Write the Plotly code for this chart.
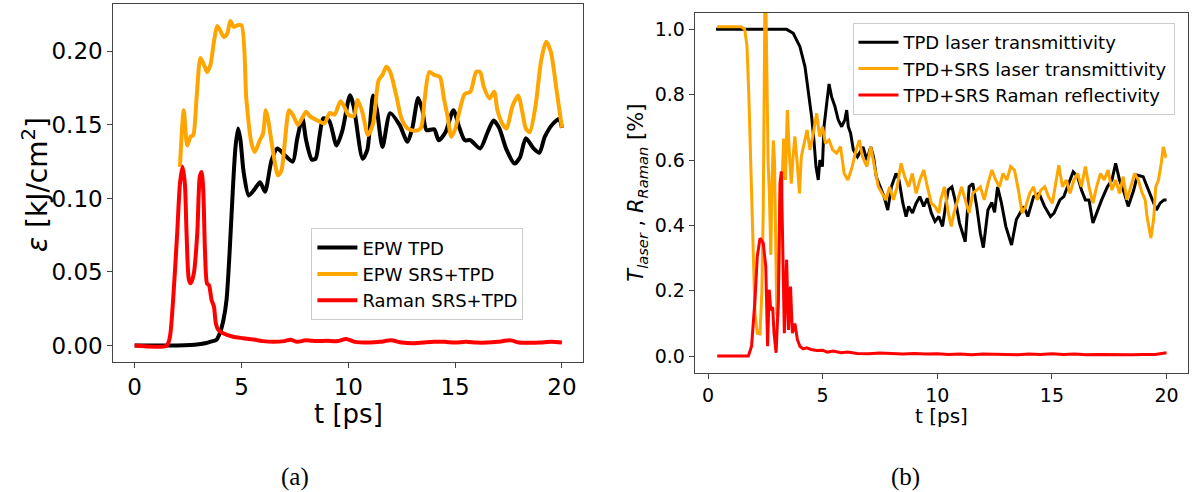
import plotly.graph_objects as go

# ---------------- Panel (a): EPW / Raman energy ----------------
a_tpd_t = [0, 1.0, 2.0, 2.6, 3.0, 3.3, 3.6, 3.83, 3.99, 4.15, 4.3, 4.45, 4.61, 4.72, 4.84, 4.95, 5.1, 5.34, 5.6, 5.87,
           6.1, 6.41, 6.68, 6.95, 7.4, 7.6, 7.85, 8.02, 8.29, 8.47, 8.65, 8.83, 9.1, 9.45, 9.72, 10.08, 10.26, 10.67,
           10.89, 11.16, 11.34, 11.6, 11.96, 12.4, 12.77, 13.0, 13.27, 13.47, 13.66, 14.02, 14.23, 14.55, 14.92, 15.2,
           15.45, 15.71, 16.17, 16.52, 16.8, 17.06, 17.41, 17.78, 18.04, 18.31, 18.67, 18.94, 19.2, 19.57, 19.87, 20.0]
a_tpd_v = [0, 0, 0, 0.0003, 0.0008, 0.0015, 0.0028, 0.004, 0.0085, 0.017, 0.031, 0.065, 0.11, 0.135, 0.1476, 0.14,
           0.118, 0.102, 0.106, 0.111, 0.1046, 0.126, 0.134, 0.1306, 0.125, 0.14, 0.1545, 0.140, 0.1265, 0.127, 0.142,
           0.1545, 0.153, 0.136, 0.146, 0.1702, 0.162, 0.127, 0.133, 0.170, 0.160, 0.135, 0.158, 0.150, 0.1385, 0.148,
           0.1683, 0.160, 0.1465, 0.147, 0.1396, 0.145, 0.160, 0.148, 0.1396, 0.1396, 0.134, 0.145, 0.153, 0.148,
           0.133, 0.1237, 0.128, 0.141, 0.134, 0.131, 0.142, 0.1506, 0.154, 0.148]

a_srs_t = [2.12, 2.3, 2.46, 2.62, 2.74, 2.9, 3.08, 3.24, 3.39, 3.55, 3.7, 3.86, 4.01, 4.17, 4.33, 4.48, 4.64, 4.8, 5.0,
           5.23, 5.47, 5.62, 5.86, 6.01, 6.14, 6.24, 6.48, 6.71, 6.87, 7.02, 7.23, 7.41, 7.65, 8.02, 8.2, 8.56, 8.88,
           9.13, 9.36, 9.63, 9.81, 9.99, 10.26, 10.44, 10.67, 10.92, 11.16, 11.42, 11.6, 11.78, 11.96, 12.23, 12.5,
           12.77, 13.13, 13.4, 13.57, 13.79, 14.02, 14.29, 14.47, 14.65, 14.82, 15.0, 15.18, 15.45, 15.71, 15.99,
           16.17, 16.34, 16.61, 16.83, 16.98, 17.24, 17.41, 17.69, 17.96, 18.13, 18.31, 18.49, 18.76, 19.03, 19.26,
           19.48, 19.75, 20.0]
a_srs_v = [0.1215, 0.160, 0.136, 0.142, 0.143, 0.169, 0.1955, 0.191, 0.186, 0.191, 0.2055, 0.2172, 0.214, 0.2098,
           0.212, 0.2207, 0.2166, 0.2177, 0.2177, 0.1668, 0.1373, 0.1316, 0.1396, 0.1441, 0.160, 0.1543, 0.1316,
           0.1157, 0.119, 0.137, 0.160, 0.1567, 0.150, 0.159, 0.156, 0.153, 0.151, 0.158, 0.157, 0.166, 0.1625, 0.157,
           0.156, 0.167, 0.158, 0.1431, 0.151, 0.1804, 0.184, 0.1895, 0.186, 0.171, 0.154, 0.1476, 0.146, 0.148,
           0.167, 0.186, 0.184, 0.1826, 0.1683, 0.1556, 0.142, 0.147, 0.158, 0.171, 0.1725, 0.186, 0.186, 0.176,
           0.168, 0.1725, 0.160, 0.150, 0.1476, 0.163, 0.170, 0.16, 0.1476, 0.145, 0.1625, 0.194, 0.2065, 0.1997,
           0.1735, 0.148]

a_raman_t = [0, 1.5, 1.65, 1.8, 1.99, 2.12, 2.24, 2.35, 2.43, 2.54, 2.63, 2.77, 2.93, 3.05, 3.13, 3.21, 3.29, 3.39,
             3.48, 3.6, 3.71, 3.8, 3.91, 4.14, 4.61, 5.07, 5.7, 6.0, 6.5, 7.0, 7.3, 7.6, 8.0, 8.5, 9.0, 9.5, 9.9,
             10.3, 11.0, 11.5, 12.0, 12.5, 13.0, 13.5, 14.0, 14.5, 15.0, 15.5, 16.0, 16.5, 17.0, 17.6, 18.0, 18.5,
             19.0, 19.5, 20.0]
a_raman_v = [0, 0, 0.006, 0.031, 0.0763, 0.110, 0.1216, 0.110, 0.076, 0.0446, 0.0423, 0.049, 0.076, 0.115, 0.118,
             0.106, 0.065, 0.042, 0.041, 0.031, 0.0265, 0.015, 0.0107, 0.0084, 0.006, 0.005, 0.0038, 0.003, 0.0025,
             0.003, 0.004, 0.0025, 0.0035, 0.003, 0.0032, 0.003, 0.0045, 0.0025, 0.002, 0.0025, 0.0035, 0.002,
             0.0015, 0.002, 0.0025, 0.0025, 0.002, 0.0025, 0.002, 0.002, 0.0025, 0.0035, 0.002, 0.0018, 0.002,
             0.0025, 0.002]

# ---------------- Panel (b): transmittivity / reflectivity ----------------
b_tpd_t = [0.35, 3.43, 3.72, 4.01, 4.23, 4.38, 4.52, 4.62, 4.71, 4.81, 4.88, 4.99, 5.06, 5.18, 5.28, 5.39, 5.54, 5.68,
           5.83, 5.97, 6.05, 6.12, 6.22, 6.34, 6.52, 6.76, 6.93, 7.1, 7.22, 7.34, 7.51, 7.68, 7.84, 8.0, 8.2, 8.33,
           8.5, 8.64, 8.75, 8.92, 9.08, 9.24, 9.41, 9.57, 9.74, 9.9, 10.07, 10.23, 10.36, 10.48, 10.64, 10.81, 10.97,
           11.14, 11.22, 11.39, 11.55, 11.72, 11.88, 12.01, 12.21, 12.38, 12.5, 12.63, 12.8, 12.99, 13.24, 13.45,
           13.62, 13.78, 13.95, 14.2, 14.44, 14.68, 14.94, 15.1, 15.35, 15.52, 15.68, 15.93, 16.12, 16.29, 16.46,
           16.62, 16.79, 17.0, 17.17, 17.42, 17.62, 17.78, 17.95, 18.16, 18.33, 18.57, 18.73, 18.98, 19.22, 19.4,
           19.56, 19.72, 19.89, 20.0]
b_tpd_v = [1.0, 1.0, 0.988, 0.947, 0.886, 0.814, 0.733, 0.661, 0.58, 0.539, 0.6, 0.58, 0.702, 0.774, 0.833, 0.794,
           0.763, 0.723, 0.702, 0.723, 0.753, 0.702, 0.682, 0.631, 0.61, 0.64, 0.60, 0.64, 0.61, 0.549, 0.518, 0.488,
           0.447, 0.518, 0.559, 0.539, 0.468, 0.427, 0.458, 0.438, 0.468, 0.488, 0.458, 0.483, 0.438, 0.412, 0.427,
           0.397, 0.458, 0.509, 0.518, 0.468, 0.407, 0.366, 0.35, 0.518, 0.528, 0.458, 0.376, 0.332, 0.447, 0.47,
           0.44, 0.518, 0.468, 0.397, 0.34, 0.418, 0.438, 0.458, 0.427, 0.488, 0.498, 0.458, 0.427, 0.438, 0.478,
           0.488, 0.518, 0.564, 0.549, 0.508, 0.478, 0.478, 0.407, 0.447, 0.478, 0.518, 0.539, 0.59, 0.539, 0.498,
           0.458, 0.508, 0.554, 0.549, 0.508, 0.478, 0.447, 0.468, 0.478, 0.478]

b_srs_t = [0.4, 1.45, 1.6, 1.7, 1.78, 1.87, 1.96, 2.05, 2.15, 2.27, 2.35, 2.41, 2.45, 2.48, 2.53, 2.57, 2.62, 2.68,
           2.74, 2.8, 2.85, 2.9, 2.95, 3.0, 3.05, 3.1, 3.15, 3.21, 3.3, 3.38, 3.46, 3.55, 3.63, 3.71, 3.79, 3.88,
           3.99, 4.07, 4.2, 4.32, 4.45, 4.57, 4.74, 4.87, 5.0, 5.12, 5.28, 5.44, 5.61, 5.78, 5.94, 6.1, 6.27, 6.44,
           6.6, 6.74, 6.93, 7.1, 7.26, 7.43, 7.59, 7.76, 7.92, 8.09, 8.25, 8.42, 8.58, 8.75, 8.91, 9.08, 9.24, 9.41,
           9.57, 9.74, 9.9, 10.07, 10.15, 10.31, 10.48, 10.61, 10.73, 10.89, 11.06, 11.22, 11.39, 11.55, 11.72,
           11.88, 12.05, 12.21, 12.38, 12.55, 12.71, 12.87, 13.04, 13.2, 13.37, 13.54, 13.7, 13.86, 14.03, 14.2,
           14.36, 14.52, 14.69, 14.85, 15.02, 15.18, 15.3, 15.46, 15.63, 15.79, 15.96, 16.12, 16.29, 16.46, 16.62,
           16.79, 16.95, 17.12, 17.28, 17.45, 17.62, 17.78, 17.95, 18.11, 18.27, 18.44, 18.61, 18.77, 18.94, 19.07,
           19.15, 19.32, 19.44, 19.53, 19.65, 19.77, 19.86, 19.97, 20.0]
b_srs_v = [1.008, 1.008, 1.0, 0.95, 0.8, 0.55, 0.3, 0.13, 0.07, 0.068, 0.2, 0.45, 0.8, 1.06, 1.06, 0.8, 0.6, 0.49,
           0.31, 0.55, 0.66, 0.6, 0.35, 0.13, 0.12, 0.3, 0.5, 0.488, 0.666, 0.539, 0.753, 0.62, 0.528, 0.61, 0.672,
           0.60, 0.498, 0.61, 0.651, 0.692, 0.631, 0.672, 0.743, 0.672, 0.702, 0.651, 0.661, 0.631, 0.621, 0.641,
           0.559, 0.539, 0.574, 0.626, 0.661, 0.61, 0.58, 0.641, 0.58, 0.518, 0.498, 0.478, 0.518, 0.478, 0.518,
           0.59, 0.549, 0.518, 0.559, 0.498, 0.539, 0.569, 0.518, 0.468, 0.458, 0.438, 0.478, 0.518, 0.438, 0.397,
           0.438, 0.478, 0.518, 0.478, 0.438, 0.498, 0.508, 0.518, 0.478, 0.528, 0.569, 0.539, 0.518, 0.559, 0.539,
           0.58, 0.569, 0.508, 0.438, 0.458, 0.498, 0.518, 0.478, 0.508, 0.518, 0.488, 0.468, 0.539, 0.584, 0.518,
           0.539, 0.498, 0.539, 0.559, 0.518, 0.58, 0.518, 0.468, 0.518, 0.559, 0.539, 0.569, 0.508, 0.539, 0.498,
           0.549, 0.478, 0.518, 0.559, 0.539, 0.498, 0.478, 0.427, 0.361, 0.42, 0.518, 0.539, 0.59, 0.64, 0.61, 0.61]

b_raman_t = [0.4, 1.76, 1.9, 2.05, 2.15, 2.27, 2.41, 2.52, 2.6, 2.67, 2.74, 2.82, 2.88, 2.97, 3.07, 3.14, 3.2, 3.26,
             3.33, 3.43, 3.51, 3.6, 3.68, 3.79, 3.9, 4.01, 4.15, 4.3, 4.5, 4.74, 5.0, 5.2, 5.46, 5.8, 6.1, 6.5, 7.0,
             7.5, 8.0, 8.5, 9.0, 9.5, 10.0, 10.5, 11.0, 11.5, 12.0, 12.5, 13.0, 13.5, 14.0, 14.5, 15.0, 15.5, 16.0,
             16.5, 17.0, 17.5, 18.0, 18.5, 19.0, 19.5, 20.0]
b_raman_v = [0, 0, 0.03, 0.172, 0.305, 0.361, 0.346, 0.274, 0.03, 0.203, 0.14, 0.15, 0.07, 0.01, 0.172, 0.529, 0.565,
             0.375, 0.07, 0.295, 0.08, 0.213, 0.07, 0.1, 0.05, 0.03, 0.022, 0.025, 0.02, 0.017, 0.018, 0.012, 0.015,
             0.01, 0.012, 0.008, 0.007, 0.009, 0.008, 0.006, 0.008, 0.006, 0.007, 0.005, 0.006, 0.004, 0.006, 0.005,
             0.006, 0.004, 0.006, 0.005, 0.007, 0.005, 0.006, 0.004, 0.005, 0.004, 0.005, 0.004, 0.005, 0.005, 0.01]

a_names = ["EPW TPD", "EPW SRS+TPD", "Raman SRS+TPD"]
b_names = ["TPD laser transmittivity", "TPD+SRS laser transmittivity", "TPD+SRS Raman reflectivity"]
x_ticks = [0, 5, 10, 15, 20]
a_y_ticks = [0.00, 0.05, 0.10, 0.15, 0.20]
b_y_ticks = [0.0, 0.2, 0.4, 0.6, 0.8, 1.0]

BLACK, ORANGE, RED = "#000000", "#FFA500", "#FF0000"
FONT = "DejaVu Sans"
W, H = 1194, 492

fig = go.Figure()

for t, v, name, col in [(a_tpd_t, a_tpd_v, a_names[0], BLACK),
                        (a_srs_t, a_srs_v, a_names[1], ORANGE),
                        (a_raman_t, a_raman_v, a_names[2], RED)]:
    fig.add_trace(go.Scatter(x=t, y=v, name=name, mode="lines",
                             line=dict(color=col, width=4, shape="spline", smoothing=0.7),
                             xaxis="x", yaxis="y", legend="legend"))

for t, v, name, col in [(b_tpd_t, b_tpd_v, b_names[0], BLACK),
                        (b_srs_t, b_srs_v, b_names[1], ORANGE),
                        (b_raman_t, b_raman_v, b_names[2], RED)]:
    fig.add_trace(go.Scatter(x=t, y=v, name=name, mode="lines",
                             line=dict(color=col, width=3),
                             xaxis="x2", yaxis="y2", legend="legend2"))

def px(x):
    return x / W

def py(y):
    return 1 - y / H

axis_common = dict(showline=True, mirror=True, linecolor="#444", linewidth=1, ticks="outside",
                   ticklen=5, tickwidth=1, tickcolor="#444", showgrid=False, zeroline=False)

fig.update_layout(
    width=W, height=H, autosize=False,
    margin=dict(l=0, r=0, t=0, b=0),
    paper_bgcolor="white", plot_bgcolor="white",
    font=dict(family=FONT, color="black"),
    xaxis=dict(domain=[px(113.3), px(583.3)], range=[-1.0, 21.0], tickvals=x_ticks,
               tickfont=dict(size=23), anchor="y", **axis_common),
    yaxis=dict(domain=[py(361.7), py(4)], range=[-0.011, 0.2322], tickvals=a_y_ticks,
               tickformat=".2f", tickfont=dict(size=23), anchor="x", **axis_common),
    xaxis2=dict(domain=[px(694.7), px(1188.3)], range=[-0.58, 20.95], tickvals=x_ticks,
                tickfont=dict(size=19), anchor="y2", **axis_common),
    yaxis2=dict(domain=[py(372.7), py(12.7)], range=[-0.051, 1.051], tickvals=b_y_ticks,
                tickformat=".1f", tickfont=dict(size=19), anchor="x2", **axis_common),
    legend=dict(x=px(311.4), y=py(228.3), xanchor="left", yanchor="top",
                bgcolor="white", bordercolor="#cccccc", borderwidth=1,
                font=dict(size=18, family=FONT), itemwidth=40, tracegroupgap=0),
    legend2=dict(x=px(852.5), y=py(23), xanchor="left", yanchor="top",
                 bgcolor="white", bordercolor="#cccccc", borderwidth=1,
                 font=dict(size=18, family=FONT), itemwidth=40, tracegroupgap=0),
    showlegend=True,
)

annotations = [
    dict(text="<i>ε</i> [kJ/cm<sup>2</sup>]", x=px(36), y=py(185), textangle=-90, font=dict(size=28)),
    dict(text="t [ps]", x=px(348.3), y=py(414), font=dict(size=26)),
    dict(text="<i>T<sub>laser</sub></i> , <i>R<sub>Raman</sub></i> [%]", x=px(637), y=py(192.7),
         textangle=-90, font=dict(size=21)),
    dict(text="t [ps]", x=px(941.5), y=py(416), font=dict(size=20)),
    dict(text="(a)", x=px(295), y=py(477), font=dict(size=25, family="Liberation Serif")),
    dict(text="(b)", x=px(905), y=py(477), font=dict(size=25, family="Liberation Serif")),
]
for a in annotations:
    a.update(xref="paper", yref="paper", showarrow=False, xanchor="center", yanchor="middle")
fig.update_layout(annotations=annotations)

fig.write_html("out.html", config={"displayModeBar": False},
               post_script="document.body.style.margin='0px';document.body.style.overflow='hidden';")
